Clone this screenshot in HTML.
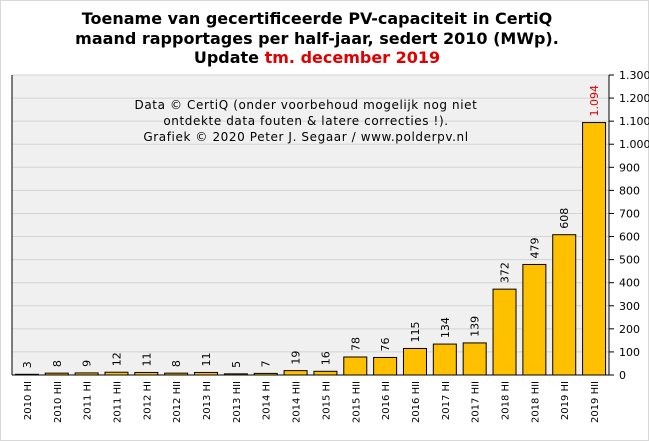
<!DOCTYPE html>
<html><head><meta charset="utf-8"><style>
body{margin:0;background:#fff;}
svg{display:block;font-family:"DejaVu Sans","Liberation Sans",sans-serif;}
</style></head><body>
<svg id="c" width="649" height="441">
<rect x="0.5" y="0.5" width="648" height="440" fill="#fff" stroke="#d8d8d8"/>
<g font-family="DejaVu Sans,sans-serif" font-weight="bold" font-size="16" text-anchor="middle">
<text x="317" y="24">Toename van gecertificeerde PV-capaciteit in CertiQ</text>
<text x="317" y="44">maand rapportages per half-jaar, sedert 2010 (MWp).</text>
<text x="317" y="63">Update <tspan fill="#e00000">tm. december 2019</tspan></text>
</g>
<rect x="12" y="75" width="597" height="300" fill="#f0f0f0"/>
<g id="grid"></g>
<g id="bars"></g>
<line x1="12" y1="75" x2="12" y2="375" stroke="#000"/>
<line x1="12" y1="375" x2="609" y2="375" stroke="#000"/>
<line x1="609" y1="75" x2="609" y2="375" stroke="#000"/>
<g id="ticks" font-size="11"></g>
<g font-size="12" letter-spacing="0.6" text-anchor="middle">
<text x="306" y="109">Data © CertiQ (onder voorbehoud mogelijk  nog niet</text>
<text x="306" y="125">ontdekte data fouten &amp; latere correcties !).</text>
<text x="306" y="141">Grafiek  © 2020 Peter J. Segaar / www.polderpv.nl</text>
</g>
</svg>
<script>
const categories=["2010 HI","2010 HII","2011 HI","2011 HII","2012 HI","2012 HII","2013 HI","2013 HII","2014 HI","2014 HII","2015 HI","2015 HII","2016 HI","2016 HII","2017 HI","2017 HII","2018 HI","2018 HII","2019 HI","2019 HII"];
const values=[3,8,9,12,11,8,11,5,7,19,16,78,76,115,134,139,372,479,608,1094];
const labels=["3","8","9","12","11","8","11","5","7","19","16","78","76","115","134","139","372","479","608","1.094"];
const yTicks=[0,100,200,300,400,500,600,700,800,900,1000,1100,1200,1300];
const yTickLabels=["0","100","200","300","400","500","600","700","800","900","1.000","1.100","1.200","1.300"];
const NS="http://www.w3.org/2000/svg";
const X0=12,X1=609,Y0=375,Y1=75,YMAX=1300;
const slot=(X1-X0)/categories.length;
const y=v=>Y0-(v/YMAX)*(Y0-Y1);
const xc=i=>X0+slot*(i+0.5);
function mk(t,a,p){const e=document.createElementNS(NS,t);for(const k in a)e.setAttribute(k,a[k]);p.appendChild(e);return e;}
const grid=document.getElementById('grid'),ticks=document.getElementById('ticks'),bars=document.getElementById('bars');
yTicks.forEach((v,i)=>{
 if(v>0){const g=mk('line',{x1:X0,x2:X1,y1:y(v),y2:y(v),stroke:'#d4d4d4'},grid);
 
 }
 const t=mk('line',{x1:X1,x2:X1+5,y1:y(v),y2:y(v),stroke:'#000'},ticks);
 
 
 const l=mk('text',{x:X1+10,y:y(v)+4},ticks);l.textContent=yTickLabels[i];
 
 
});
const bw=23;
values.forEach((v,i)=>{
 const r=mk('rect',{x:xc(i)-bw/2,y:y(v),width:bw,height:Y0-y(v),fill:'#ffc000',stroke:'#000','stroke-width':1},bars);
 
 
 const ly=y(v)-6;
 const t=mk('text',{x:0,y:0,transform:`translate(${xc(i)+4},${ly}) rotate(-90)`,'font-size':11,fill:i===values.length-1?'#e00000':'#000'},bars);
 t.textContent=labels[i];
 
 
 const c=mk('text',{x:0,y:0,transform:`translate(${xc(i)+4},${Y0+6}) rotate(-90)`,'font-size':10,'text-anchor':'end'},bars);
 c.textContent=categories[i];
 
 
});
</script>
</body></html>
